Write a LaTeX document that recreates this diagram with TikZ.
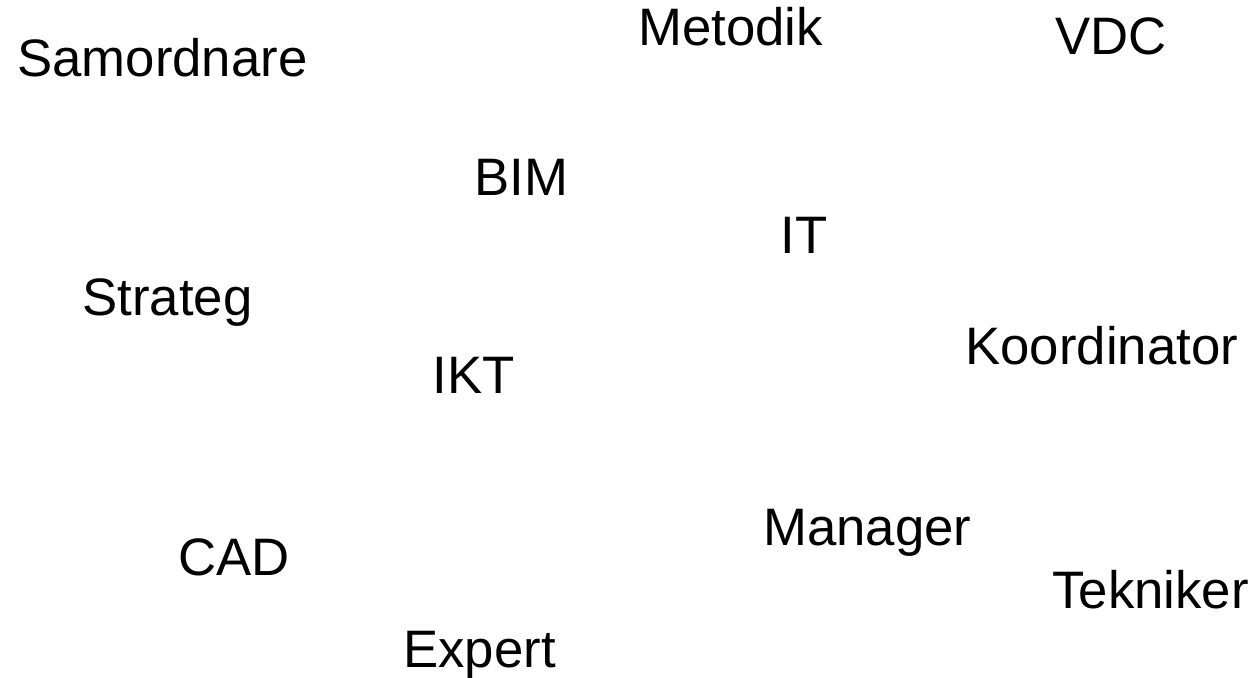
\documentclass[tikz,border=0pt]{standalone}
\usepackage{fontspec}
\setmainfont{Liberation Sans}
\usepackage{tikz}

\begin{document}
\begin{tikzpicture}[
		x=0.2mm, y=-0.2mm,
		every node/.style={inner sep=0pt, anchor=base west, font=\fontsize{30}{36}\selectfont}
	]
  \useasboundingbox (0,0) rectangle (1260,678);
  \node (samordnare) at (17, 77) {Samordnare};
  \node (metodik) at (638, 46) {Metodik};
  \node (vdc) at (1055, 55) {VDC};
  \node (bim) at (474, 196) {BIM};
  \node (it) at (780, 253) {IT};
  \node (strateg) at (82, 315) {Strateg};
  \node (koordinator) at (965, 364) {Koordinator};
  \node (ikt) at (432, 393) {IKT};
  \node (manager) at (763, 545) {Manager};
  \node (cad) at (178, 575) {CAD};
  \node (tekniker) at (1052, 608) {Tekniker};
  \node (expert) at (403, 667) {Expert};
\end{tikzpicture}
\end{document}
